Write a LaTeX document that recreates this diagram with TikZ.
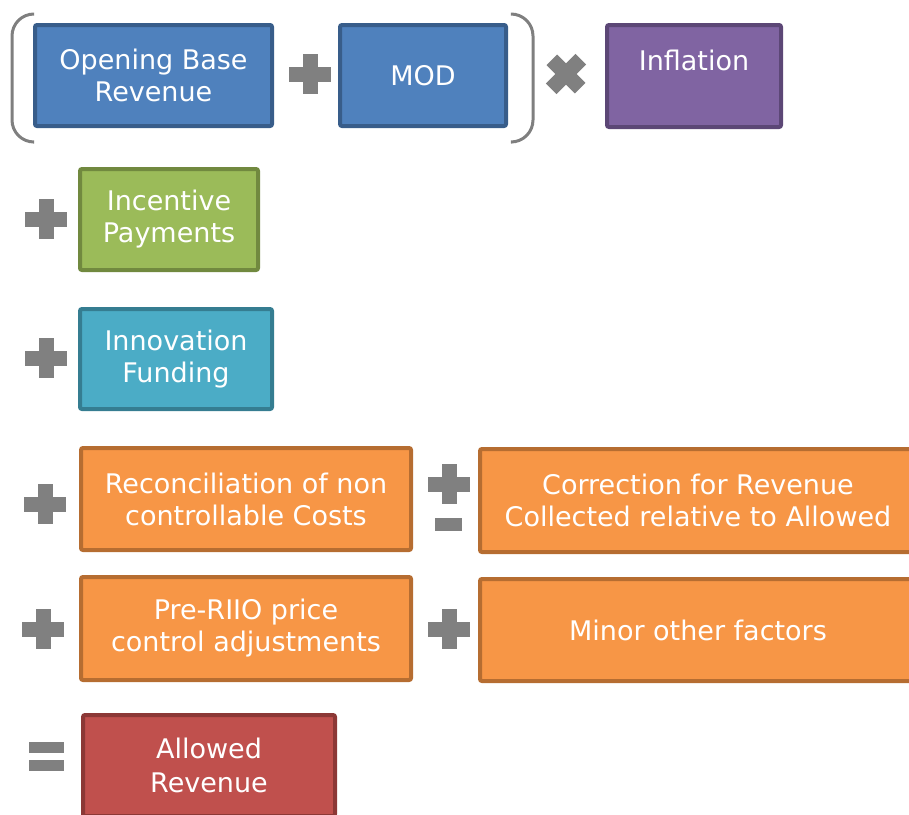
\documentclass[tikz,border=0pt]{standalone}
\usepackage{fontspec}
\setmainfont{DejaVu Sans}
\definecolor{opgray}{HTML}{808080}
\definecolor{brgray}{HTML}{7F7F7F}
\definecolor{bluef}{HTML}{4F81BD}\definecolor{blued}{HTML}{385D8A}
\definecolor{purpf}{HTML}{8064A2}\definecolor{purpd}{HTML}{5C4776}
\definecolor{greenf}{HTML}{9BBB59}\definecolor{greend}{HTML}{71893F}
\definecolor{tealf}{HTML}{4BACC6}\definecolor{teald}{HTML}{357D91}
\definecolor{orangef}{HTML}{F79646}\definecolor{oranged}{HTML}{B66D31}
\definecolor{redf}{HTML}{C0504D}\definecolor{redd}{HTML}{8C3836}
\begin{document}
\begin{tikzpicture}[x=1pt,y=-1pt,
  box/.style={rectangle, rounded corners=2pt, line width=4pt, inner sep=0pt,
    text=white, align=center, font=\fontsize{27}{32}\selectfont},
  bluebox/.style={box, fill=bluef, draw=blued},
  purplebox/.style={box, fill=purpf, draw=purpd},
  greenbox/.style={box, fill=greenf, draw=greend},
  tealbox/.style={box, fill=tealf, draw=teald},
  orangebox/.style={box, fill=orangef, draw=oranged},
  redbox/.style={box, fill=redf, draw=redd},
  bracket/.style={draw=brgray, line width=3pt, rounded corners=22pt},
  plussign/.pic={\fill[opgray] (-21,-7.5) rectangle (21,7.5); \fill[opgray] (-7.5,-20) rectangle (7.5,20);}
]
\useasboundingbox (0,0) rectangle (909,814);
\clip (0,0) rectangle (909,814);

% row 1
\node[bluebox, minimum width=237pt, minimum height=101pt] (obr) at (153.5,75.5) {Opening Base\\Revenue};
\node[bluebox, minimum width=166pt, minimum height=101pt] (mod) at (423,75.5) {MOD};
\node[purplebox, minimum width=174pt, minimum height=102pt] (infl) at (694,76) {Inflation\\[-10pt]\strut};
\draw[bracket] (33,14) -- (12,14) -- (12,142) -- (33,142);
\draw[bracket] (512,14) -- (533,14) -- (533,142) -- (512,142);
\pic at (310,74) {plussign};
\pic[rotate=45] at (566,74) {plussign};

% row 2
\node[greenbox, minimum width=178pt, minimum height=101pt] (inc) at (169,219.5) {Incentive\\Payments};
\pic at (46,219) {plussign};

% row 3
\node[tealbox, minimum width=192pt, minimum height=100pt] (inn) at (176,359) {Innovation\\Funding};
\pic at (46,358) {plussign};

% row 4
\node[orangebox, minimum width=330pt, minimum height=102pt] (rec) at (246,499) {Reconciliation of non\\controllable Costs};
\node[orangebox, minimum width=436pt, minimum height=103pt] (cor) at (698,500.5) {Correction for Revenue\\Collected relative to Allowed};
\pic at (45,504) {plussign};
\pic at (449,484) {plussign};
\fill[opgray] (435,518) rectangle (462,531);

% row 5
\node[orangebox, minimum width=330pt, minimum height=103pt] (pre) at (246,628.5) {Pre-RIIO price\\control adjustments};
\node[orangebox, minimum width=436pt, minimum height=102pt] (min) at (698,630) {Minor other factors};
\pic at (43,629) {plussign};
\pic at (449,629) {plussign};

% row 6
\node[redbox, minimum width=252pt, minimum height=101pt] (all) at (209,765.5) {Allowed\\[2pt]Revenue};
\fill[opgray] (29,742) rectangle (64,753);
\fill[opgray] (29,760) rectangle (64,771);
\end{tikzpicture}
\end{document}
